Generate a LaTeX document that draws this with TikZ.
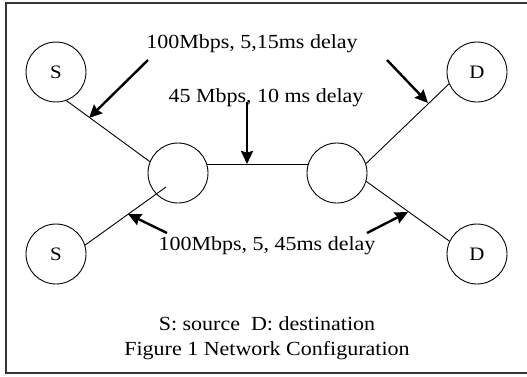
\documentclass[tikz,border=0pt]{standalone}
\usepackage{fontspec}
\setmainfont{Liberation Serif}[FakeStretch=1.1]
\usetikzlibrary{arrows.meta}
\tikzset{
  host/.style={circle, draw, line width=0.9pt, minimum size=60pt, inner sep=0pt, font=\fontsize{19}{22}\selectfont},
  link/.style={draw, line width=0.9pt},
  pointer/.style={draw, line width=2.4pt, -{Stealth[length=13pt,width=12pt,inset=1.5pt]}},
  lbl/.style={inner sep=0pt, font=\fontsize{20}{24}\selectfont},
  frame/.style={draw=black!80, line width=2pt}
}
\begin{document}
\begin{tikzpicture}[x=1pt,y=-1pt]
\useasboundingbox (0,0) rectangle (527,376);
\path[fill=white] (0,0) rectangle (527,376);
\draw[frame] (535,3) -- (6,3) -- (6,373) -- (535,373);

\node[host] (sT) at (56,72) {S};
\node[host] (dT) at (477,72) {D};
\node[host] (mL) at (178,173) {};
\node[host] (mR) at (337,173) {};
\node[host] (sB) at (56,254) {S};
\node[host] (dB) at (477,254) {D};

\coordinate (inL) at (166,187);
\draw[link] (sT.-70) -- (mL.158);
\draw[link] (mL.17) -- (mR.163);
\draw[link] (mR.18) -- (dT.203);
\draw[link] (sB.17) -- (inL);
\draw[link] (mR.-16) -- (dB.155);

\node[lbl] (t1) at (252,44) {100Mbps, 5,15ms delay};
\node[lbl] (t2) at (266,98) {45 Mbps, 10 ms delay};
\node[lbl] (t3) at (267,246) {100Mbps, 5, 45ms delay};
\node[lbl] (t4) at (267,324) {S: source\ \ D: destination};
\node[lbl] (t5) at (267,351) {Figure 1 Network Configuration};

\coordinate (a1s) at (148,60);  \coordinate (a1e) at (89,118);
\coordinate (a2s) at (247,102); \coordinate (a2e) at (247,164);
\coordinate (a3s) at (387,60);  \coordinate (a3e) at (428,103);
\coordinate (a4s) at (167,233); \coordinate (a4e) at (128,214);
\coordinate (a5s) at (367,233); \coordinate (a5e) at (408,212);
\draw[pointer] (a1s) -- (a1e);
\draw[pointer] (a2s) -- (a2e);
\draw[pointer] (a3s) -- (a3e);
\draw[pointer] (a4s) -- (a4e);
\draw[pointer] (a5s) -- (a5e);
\end{tikzpicture}
\end{document}
